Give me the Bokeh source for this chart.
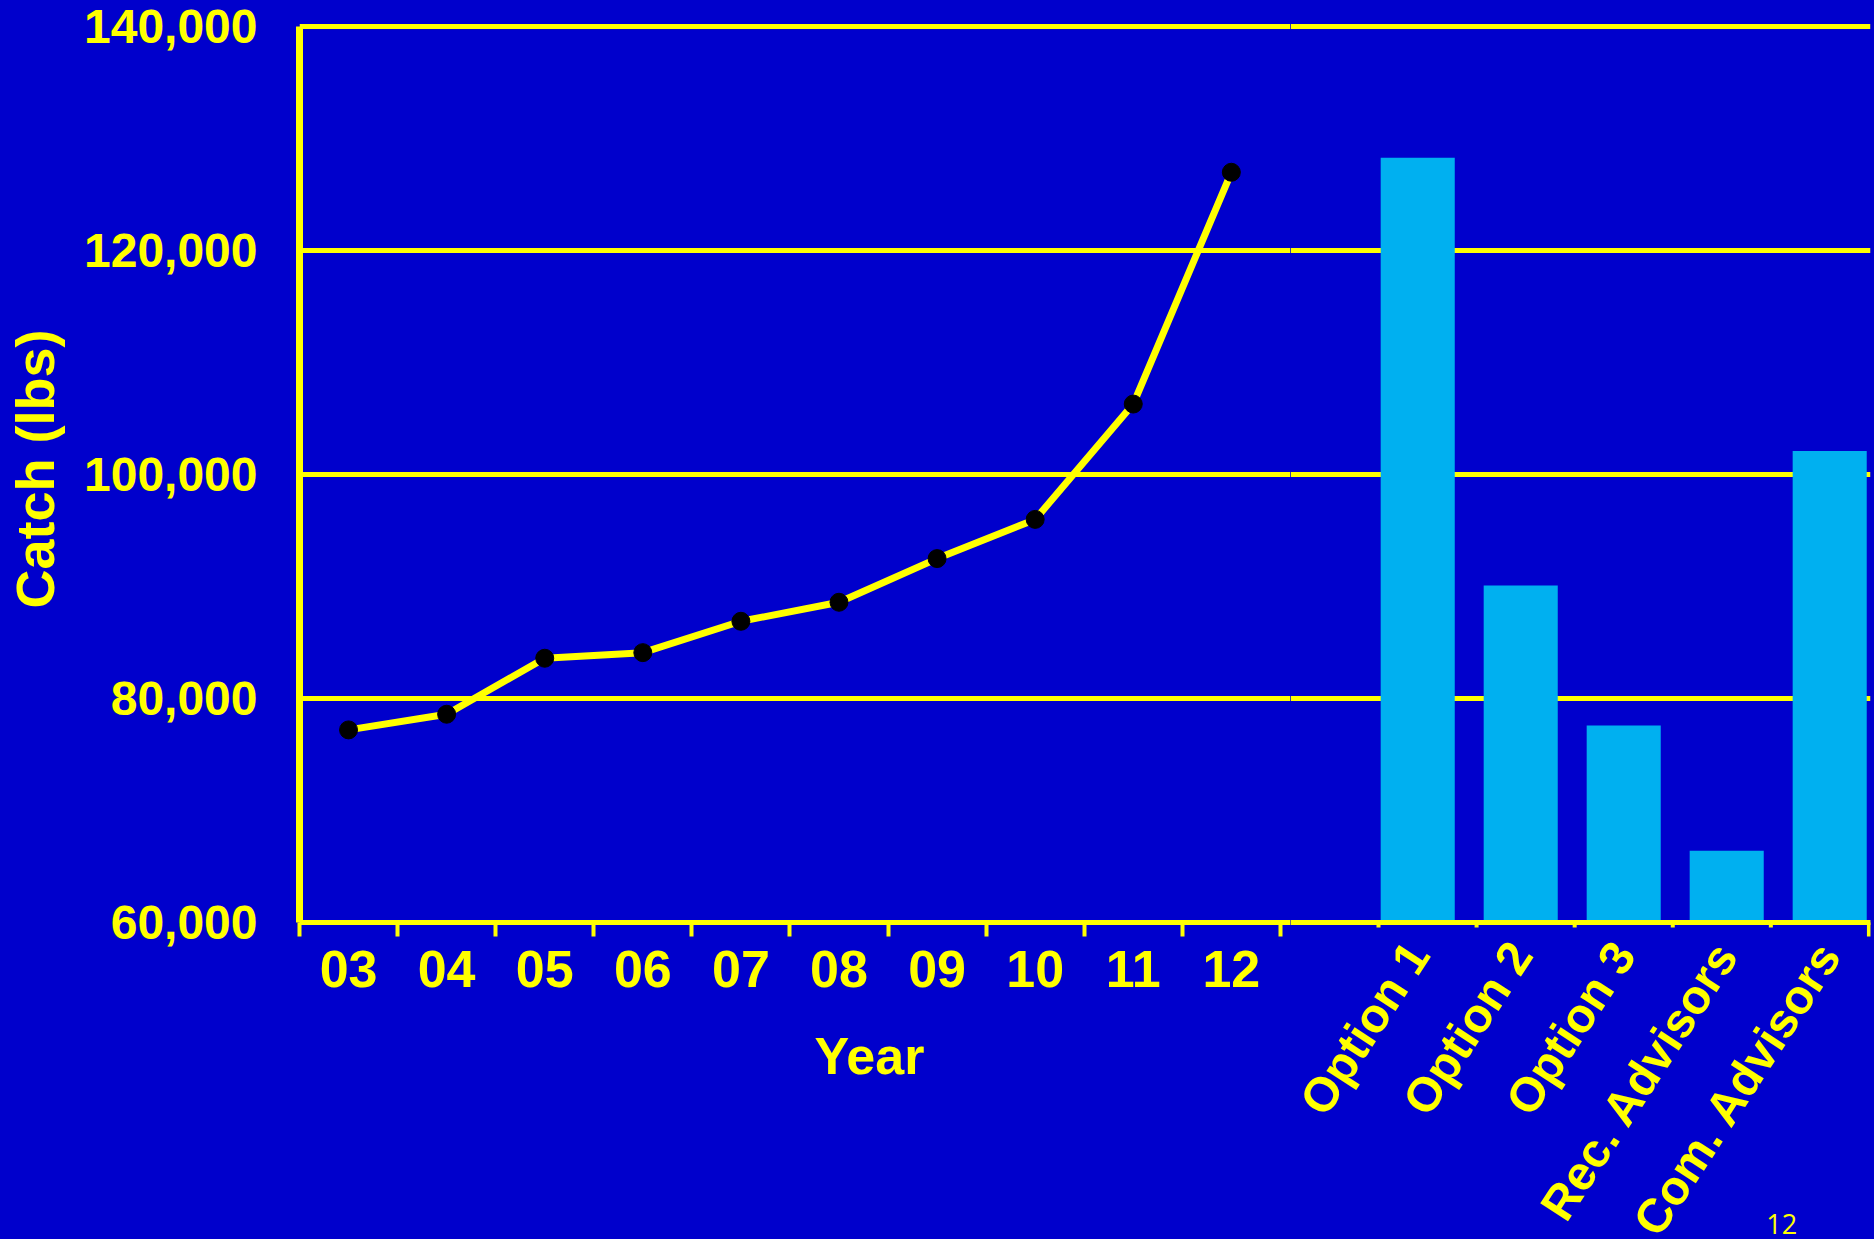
import math
from bokeh.plotting import figure
from bokeh.layouts import row
from bokeh.models import Range1d, FixedTicker, Title, Span, ColumnDataSource, NumeralTickFormatter
from bokeh.core.properties import value
from bokeh.embed import file_html
from bokeh.resources import INLINE

# ---- data ----
years = ["03", "04", "05", "06", "07", "08", "09", "10", "11", "12"]
catch = [77200, 78600, 83600, 84100, 86900, 88600, 92500, 96000, 106300, 127000]

options = ["Option 1", "Option 2", "Option 3", "Rec. Advisors", "Com. Advisors"]
option_catch = [128300, 90100, 77600, 66400, 102100]

y_ticks = [60000, 80000, 100000, 120000, 140000]
page_number = "12"

BG = "#0000CC"
YEL = "#FFFF00"
BAR = "#00B0F0"
FONT = "Liberation Sans"

UNIT = 98.09            # px per category
Y_LO, Y_HI = 60000, 141000
FRAME_H = 907           # px of the value axis frame
PX_PER_LB = FRAME_H / (Y_HI - Y_LO)
TOP = 15
BOTTOM = 317
SPLIT = 10.1            # where the left panel ends (category units)

n_years = len(years)
year_x = [i + 0.5 for i in range(n_years)]
opt_start = n_years + 1
opt_x = [opt_start + 0.4 + 1.05 * i for i in range(len(options))]

y_range = Range1d(Y_LO, Y_HI)
BG_STYLE = {"background-color": BG}


def style_common(p):
    p.background_fill_color = None
    p.border_fill_color = None
    p.outline_line_color = None
    p.xgrid.visible = False
    p.ygrid.ticker = FixedTicker(ticks=y_ticks)
    p.ygrid.grid_line_color = YEL
    p.ygrid.grid_line_width = 5


# ---------------- left: yearly catch ----------------
L_W = int(round(UNIT * SPLIT))
L = figure(frame_width=L_W, frame_height=FRAME_H,
           output_backend="svg", toolbar_location=None,
           x_range=Range1d(0, L_W / UNIT), y_range=y_range,
           min_border_left=299, min_border_right=0, min_border_top=TOP,
           min_border_bottom=BOTTOM, styles=BG_STYLE)
style_common(L)

ya = L.yaxis[0]
ya.ticker = FixedTicker(ticks=y_ticks)
ya.formatter = NumeralTickFormatter(format="0,0")
ya.bounds = (60000, 140000)
ya.axis_line_color = YEL
ya.axis_line_width = 7
ya.major_tick_out = 0
ya.major_tick_in = 0
ya.minor_tick_out = 0
ya.minor_tick_in = 0
ya.major_label_text_color = YEL
ya.major_label_text_font = FONT
ya.major_label_text_font_style = "bold"
ya.major_label_text_font_size = "48px"
ya.major_label_standoff = 42
ya.axis_label = "Catch (lbs)"
ya.axis_label_text_color = YEL
ya.axis_label_text_font = FONT
ya.axis_label_text_font_style = "bold"
ya.axis_label_text_font_size = "54px"
ya.axis_label_standoff = 16

xa = L.xaxis[0]
xa.ticker = FixedTicker(ticks=year_x, minor_ticks=list(range(0, n_years + 1)))
xa.major_label_overrides = {x: y for x, y in zip(year_x, years)}
xa.axis_line_color = YEL
xa.axis_line_width = 5
xa.major_tick_out = 0
xa.major_tick_in = 0
xa.minor_tick_out = 14
xa.minor_tick_in = 0
xa.minor_tick_line_color = YEL
xa.minor_tick_line_width = 4
xa.major_label_text_color = YEL
xa.major_label_text_font = FONT
xa.major_label_text_font_style = "bold"
xa.major_label_text_font_size = "52px"
xa.major_label_standoff = 14

L.add_layout(Title(text="Year", align="left", offset=515, standoff=70,
                   text_color=YEL, text_font=FONT, text_font_style="bold",
                   text_font_size="52px"), "below")

lsrc = ColumnDataSource(dict(x=year_x, y=catch, year=years))
L.line(x="x", y="y", source=lsrc, line_color=YEL, line_width=7)
L.scatter(x="x", y="y", source=lsrc, size=18, fill_color="black", line_color="black")

# ---------------- right: options (frame reaches the page bottom) ----------------
R_W = 1870 - (299 + L_W)
R_H = FRAME_H + BOTTOM
R_x0 = L_W / UNIT
R = figure(frame_width=R_W, frame_height=R_H,
           output_backend="svg", toolbar_location=None,
           x_range=Range1d(R_x0, R_x0 + R_W / UNIT),
           y_range=Range1d(Y_HI - R_H / PX_PER_LB, Y_HI),
           x_axis_location=None, y_axis_location=None,
           min_border_left=0, min_border_right=4, min_border_top=TOP, min_border_bottom=0,
           styles=BG_STYLE)
style_common(R)

bsrc = ColumnDataSource(dict(x=opt_x, top=option_catch, name=options))
R.vbar(x="x", top="top", bottom=Y_LO, width=0.755, source=bsrc,
       fill_color=BAR, line_color=None)

# axis line and small boundary ticks of the options section
R.add_layout(Span(location=Y_LO, dimension="width", line_color=YEL, line_width=5))
bounds = list(range(opt_start, opt_start + len(options) + 1))
tick_len = [3] * len(options) + [12]
R.segment(x0=bounds, x1=bounds, y0=[Y_LO] * len(bounds),
          y1=[Y_LO - (t + 2) / PX_PER_LB for t in tick_len],
          line_color=YEL, line_width=4)

# rotated option labels, anchored just below the axis under each bar
lab_x = list(opt_x)
lab_y = [Y_LO - 24 / PX_PER_LB] * len(options)
R.text(x=lab_x, y=lab_y, text=options, angle=math.radians(57),
       text_align="right", text_baseline="middle", text_color=YEL,
       text_font=value(FONT), text_font_style="bold", text_font_size="48px")

# slide page number
R.text(x=[15.11], y=[Y_LO - 301 / PX_PER_LB], text=[page_number],
       text_align="center", text_baseline="middle", text_color=YEL,
       text_font=value("Open Sans"), text_font_size="27px")

layout = row(L, R, spacing=0, styles=BG_STYLE)
open("out.html", "w").write(file_html(layout, INLINE))
